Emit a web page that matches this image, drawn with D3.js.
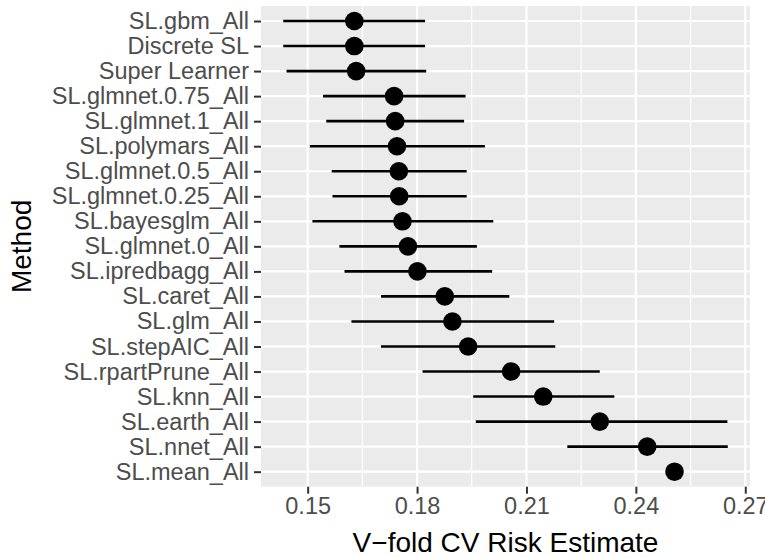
<!DOCTYPE html>
<meta charset="utf-8">
<style>
    body {
        margin: 0;
        background: #fff;
        font-family: "Liberation Sans", Arial, Helvetica, sans-serif;
    }
</style>

<body>
    <svg width="765" height="558"></svg>

    <script src="https://d3js.org/d3.v7.min.js"></script>
    <script>
        // methods, top to bottom
        const methods = [
            "SL.gbm_All", "Discrete SL", "Super Learner", "SL.glmnet.0.75_All",
            "SL.glmnet.1_All", "SL.polymars_All", "SL.glmnet.0.5_All", "SL.glmnet.0.25_All",
            "SL.bayesglm_All", "SL.glmnet.0_All", "SL.ipredbagg_All", "SL.caret_All",
            "SL.glm_All", "SL.stepAIC_All", "SL.rpartPrune_All", "SL.knn_All",
            "SL.earth_All", "SL.nnet_All", "SL.mean_All"
        ];
        const risk = [0.1628, 0.1628, 0.1633, 0.1737, 0.1740, 0.1745, 0.1750, 0.1751, 0.1760, 0.1775,
            0.1801, 0.1876, 0.1897, 0.1940, 0.2058, 0.2146, 0.2301, 0.2431, 0.2506];
        const lower = [0.1433, 0.1433, 0.1442, 0.1542, 0.1551, 0.1506, 0.1566, 0.1568, 0.1513, 0.1587,
            0.1601, 0.1701, 0.1620, 0.1701, 0.1815, 0.1954, 0.1961, 0.2212, 0.2506];
        const upper = [0.1822, 0.1822, 0.1825, 0.1933, 0.1929, 0.1986, 0.1936, 0.1936, 0.2009, 0.1964,
            0.2006, 0.2053, 0.2176, 0.2179, 0.2301, 0.2341, 0.2651, 0.2652, 0.2506];
        const xTicks = [0.15, 0.18, 0.21, 0.24, 0.27];
        const xMinor = [0.135, 0.165, 0.195, 0.225, 0.255];

        const data = methods.map((m, i) => ({ method: m, risk: risk[i], lower: lower[i], upper: upper[i] }));

        const svg = d3.select("svg");
        const margin = { top: 6, right: 15, bottom: 71.3, left: 261 };
        const width = 765, height = 558;
        const panelW = width - margin.left - margin.right;
        const panelH = height - margin.top - margin.bottom;

        // ggplot-style 5% expansion
        const lo = d3.min(lower), hi = d3.max(upper);
        const pad = (hi - lo) * 0.05;
        const x = d3.scaleLinear().domain([lo - pad, hi + pad]).range([0, panelW]);
        const y = d3.scalePoint().domain(methods).range([0, panelH]).padding(0.6);

        const g = svg.append("g").attr("transform", `translate(${margin.left},${margin.top})`);

        g.append("rect")
            .attr("width", panelW)
            .attr("height", panelH)
            .attr("fill", "#EBEBEB");

        const inDomain = v => v >= x.domain()[0] && v <= x.domain()[1];

        g.selectAll(".minor")
            .data(xMinor.filter(inDomain))
            .join("line")
            .attr("x1", d => x(d)).attr("x2", d => x(d))
            .attr("y1", 0).attr("y2", panelH)
            .attr("stroke", "#fff").attr("stroke-width", 1.1);

        g.selectAll(".vmajor")
            .data(xTicks.filter(inDomain))
            .join("line")
            .attr("x1", d => x(d)).attr("x2", d => x(d))
            .attr("y1", 0).attr("y2", panelH)
            .attr("stroke", "#fff").attr("stroke-width", 2.2);

        g.selectAll(".hmajor")
            .data(methods)
            .join("line")
            .attr("x1", 0).attr("x2", panelW)
            .attr("y1", d => y(d)).attr("y2", d => y(d))
            .attr("stroke", "#fff").attr("stroke-width", 2.2);

        // ranges
        g.selectAll(".range")
            .data(data)
            .join("line")
            .attr("x1", d => x(d.lower)).attr("x2", d => x(d.upper))
            .attr("y1", d => y(d.method)).attr("y2", d => y(d.method))
            .attr("stroke", "#000").attr("stroke-width", 2.6);

        g.selectAll(".pt")
            .data(data)
            .join("circle")
            .attr("cx", d => x(d.risk))
            .attr("cy", d => y(d.method))
            .attr("r", 9.3)
            .attr("fill", "#000");

        // x axis
        const xAxis = g.append("g")
            .attr("transform", `translate(0,${panelH})`)
            .call(d3.axisBottom(x).tickValues(xTicks).tickSize(7).tickPadding(4).tickFormat(d3.format(".2f")));
        xAxis.select(".domain").remove();
        xAxis.selectAll(".tick line").attr("stroke", "#333").attr("stroke-width", 2);
        xAxis.selectAll(".tick text")
            .attr("fill", "#4D4D4D")
            .style("font-size", "23.5px")
            .style("font-family", "'Liberation Sans', Arial, sans-serif");

        // y axis
        const yAxis = g.append("g")
            .call(d3.axisLeft(y).tickSize(7).tickPadding(5));
        yAxis.select(".domain").remove();
        yAxis.selectAll(".tick line").attr("stroke", "#333").attr("stroke-width", 2);
        yAxis.selectAll(".tick text")
            .attr("fill", "#4D4D4D")
            .style("font-size", "23.5px")
            .style("font-family", "'Liberation Sans', Arial, sans-serif");

        // titles
        svg.append("text")
            .attr("x", margin.left + panelW / 2)
            .attr("y", 551.5)
            .attr("text-anchor", "middle")
            .style("font-size", "28px")
            .attr("fill", "#000")
            .text("V\u2212fold CV Risk Estimate");

        svg.append("text")
            .attr("transform", `translate(31,${margin.top + panelH / 2}) rotate(-90)`)
            .attr("text-anchor", "middle")
            .style("font-size", "28px")
            .attr("fill", "#000")
            .text("Method");
    </script>
</body>
